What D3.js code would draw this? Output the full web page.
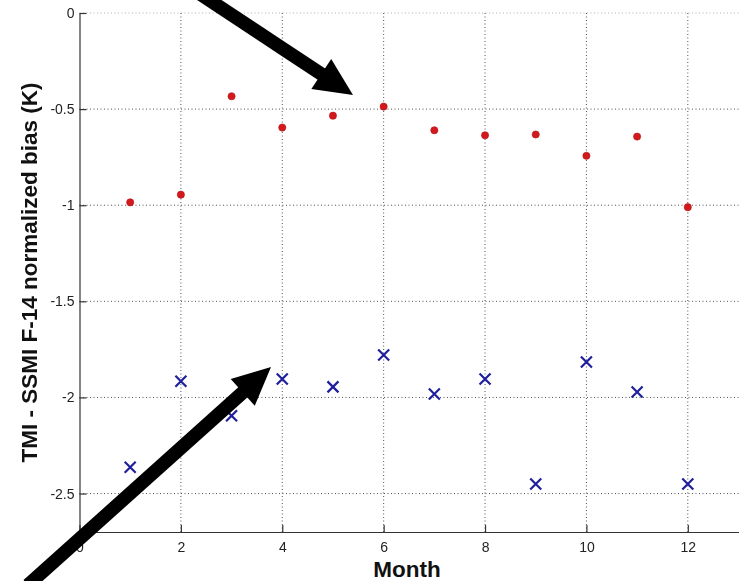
<!DOCTYPE html>
<html>
<head>
<meta charset="utf-8">
<script src="https://cdn.jsdelivr.net/npm/d3@7"></script>
<style>
  html, body { margin: 0; padding: 0; background: #fff; }
  svg { display: block; }
  text { font-family: Arial, "Liberation Sans", sans-serif; }
</style>
</head>
<body>
<svg id="chart" width="739" height="581"></svg>
<script>
// Monthly normalized bias, two series
const months = [1, 2, 3, 4, 5, 6, 7, 8, 9, 10, 11, 12];
const biasDots = [-0.985, -0.945, -0.433, -0.596, -0.534, -0.487, -0.61, -0.636, -0.632, -0.743, -0.643, -1.01];
const biasCrosses = [-2.363, -1.916, -2.095, -1.904, -1.945, -1.779, -1.982, -1.904, -2.45, -1.816, -1.972, -2.45];

const xTicks = [0, 2, 4, 6, 8, 10, 12];
const xTickLabels = ["0", "2", "4", "6", "8", "10", "12"];
const yTicks = [0, -0.5, -1, -1.5, -2, -2.5];
const yTickLabels = ["0", "-0.5", "-1", "-1.5", "-2", "-2.5"];

const xTitle = "Month";
const yTitle = "TMI - SSMI F-14 normalized bias (K)";

// Annotation arrows, given in data units: [tailX, tailY, tipX, tipY]
const arrows = [
  [2.38, 0.099, 5.395, -0.4266],
  [-1.016, -2.976, 3.778, -1.842]
];

const svg = d3.select("#chart");
const x = d3.scaleLinear().domain([0, 13]).range([79.5, 738.5]);
const y = d3.scaleLinear().domain([-2.7, 0]).range([532, 13]);

// dotted grid
const grid = svg.append("g").attr("stroke", "#333").attr("stroke-width", 1)
  .attr("stroke-dasharray", "1,2.5").attr("opacity", 0.85);
grid.selectAll("line.v").data(xTicks.filter(d => d > 0)).join("line")
  .attr("x1", d => x(d)).attr("x2", d => x(d))
  .attr("y1", y(-2.7)).attr("y2", y(0));
grid.selectAll("line.h").data(yTicks).join("line")
  .attr("y1", d => y(d)).attr("y2", d => y(d))
  .attr("x1", x(0)).attr("x2", x(13))
  .attr("opacity", d => d === 0 ? 0.45 : 1);

// axes
const xAxis = d3.axisBottom(x).tickValues(xTicks)
  .tickFormat((d, i) => xTickLabels[i]).tickSizeInner(-7).tickSizeOuter(0).tickPadding(10);
const yAxis = d3.axisLeft(y).tickValues(yTicks)
  .tickFormat((d, i) => yTickLabels[i]).tickSizeInner(-7).tickSizeOuter(0).tickPadding(10);

const gx = svg.append("g").attr("transform", `translate(0,${y(-2.7)})`).call(xAxis);
const gy = svg.append("g").attr("transform", `translate(${x(0)},0)`).call(yAxis);
[gx, gy].forEach(g => {
  g.select(".domain").attr("stroke", "#333").attr("stroke-width", 1.2);
  g.selectAll(".tick line").attr("stroke", "#333").attr("stroke-width", 1.2);
  g.selectAll(".tick text").attr("font-size", 14).attr("fill", "#222")
    .attr("font-family", "Arial, 'Liberation Sans', sans-serif");
});
gy.selectAll(".tick text").attr("dx", 5);

// axis titles
svg.append("text").attr("x", x(6.5) - 2).attr("y", 577)
  .attr("text-anchor", "middle").attr("font-size", 22.5).attr("font-weight", "bold")
  .attr("fill", "#111").text(xTitle);
svg.append("text").attr("transform", `translate(37,${(y(0) + y(-2.7)) / 2}) rotate(-90)`)
  .attr("text-anchor", "middle").attr("font-size", 22.5).attr("font-weight", "bold")
  .attr("fill", "#111").text(yTitle);

// red dots
svg.append("g").selectAll("circle").data(months).join("circle")
  .attr("cx", d => x(d)).attr("cy", (d, i) => y(biasDots[i]))
  .attr("r", 3.6).attr("fill", "#d3191c").attr("stroke", "#b01418").attr("stroke-width", 0.6);

// blue crosses
const s = 5.5;
svg.append("g").attr("stroke", "#1f1f9e").attr("stroke-width", 2.2)
  .selectAll("path").data(months).join("path")
  .attr("d", (d, i) => {
    const cx = x(d), cy = y(biasCrosses[i]);
    return `M${cx - s},${cy - s}L${cx + s},${cy + s}M${cx - s},${cy + s}L${cx + s},${cy - s}`;
  });

// arrows
const headLen = 38, headHalf = 18, shaftW = 13.5;
arrows.forEach(([tx, ty, px, py]) => {
  const x0 = x(tx), y0 = y(ty), x1 = x(px), y1 = y(py);
  const len = Math.hypot(x1 - x0, y1 - y0);
  const ux = (x1 - x0) / len, uy = (y1 - y0) / len;
  const bx = x1 - ux * headLen, by = y1 - uy * headLen;
  svg.append("line").attr("x1", x0).attr("y1", y0).attr("x2", bx + ux * 2).attr("y2", by + uy * 2)
    .attr("stroke", "#000").attr("stroke-width", shaftW);
  svg.append("path")
    .attr("d", `M${x1},${y1}L${bx - uy * headHalf},${by + ux * headHalf}L${bx + uy * headHalf},${by - ux * headHalf}Z`)
    .attr("fill", "#000");
});
</script>
</body>
</html>
